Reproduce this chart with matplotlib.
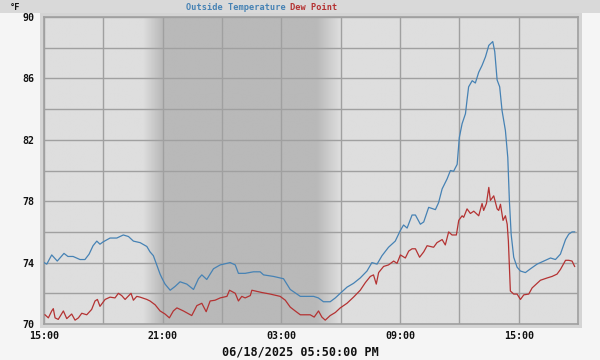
import numpy as np
import pandas as pd
import matplotlib
matplotlib.use("Agg")
import matplotlib.pyplot as plt
import matplotlib.dates as mdates
from matplotlib.patches import Rectangle

# Data: hours after 2025-06-17 15:00, values in degrees F
start = pd.Timestamp("2025-06-17 15:00")
end = pd.Timestamp("2025-06-18 18:00")
stamp = "06/18/2025 05:50:00 PM"

temp_h = [0.00, 0.14, 0.39, 0.67, 1.01, 1.21, 1.47, 1.82, 2.07, 2.28, 2.48, 2.67,
          2.83, 2.99, 3.34, 3.68, 4.01, 4.27, 4.52, 4.86, 5.20, 5.36, 5.53, 5.70,
          5.87, 5.96, 6.12, 6.38, 6.63, 6.88, 7.22, 7.56, 7.81, 7.98, 8.23, 8.57,
          8.91, 9.41, 9.67, 9.83, 10.17, 10.59, 10.93, 11.10, 11.60, 12.11, 12.45,
          12.96, 13.63, 13.87, 14.13, 14.47, 14.73, 14.98, 15.32, 15.65, 15.99,
          16.33, 16.58, 16.84, 17.09, 17.42, 17.76, 18.02, 18.18, 18.36, 18.61,
          18.78, 19.03, 19.20, 19.45, 19.79, 19.95, 20.13, 20.38, 20.55, 20.71,
          20.89, 21.00, 21.14, 21.31, 21.39, 21.47, 21.65, 21.81, 21.98, 22.15,
          22.32, 22.49, 22.69, 22.79, 22.91, 23.04, 23.16, 23.33, 23.45, 23.53,
          23.62, 23.75, 23.92, 24.09, 24.34, 24.60, 24.93, 25.27, 25.61, 25.86,
          26.11, 26.37, 26.53, 26.70, 26.83]
temp = [74.0, 73.9, 74.5, 74.1, 74.6, 74.4, 74.4, 74.2, 74.2, 74.55, 75.1, 75.4,
        75.2, 75.35, 75.6, 75.6, 75.8, 75.7, 75.4, 75.3, 75.05, 74.7, 74.45, 73.85,
        73.25, 73.0, 72.6, 72.2, 72.45, 72.75, 72.6, 72.25, 72.95, 73.2, 72.9, 73.6,
        73.85, 74.0, 73.85, 73.3, 73.3, 73.4, 73.4, 73.2, 73.1, 72.95, 72.25,
        71.8, 71.8, 71.7, 71.45, 71.45, 71.7, 72.0, 72.4, 72.65, 73.0,
        73.45, 74.0, 73.9, 74.45, 75.0, 75.4, 76.1, 76.45, 76.25, 77.1,
        77.1, 76.5, 76.65, 77.6, 77.45, 77.9, 78.8, 79.45, 80.0, 79.95,
        80.4, 82.15, 83.05, 83.7, 84.6, 85.45, 85.85, 85.7, 86.4, 86.85,
        87.4, 88.15, 88.4, 87.75, 85.9, 85.45, 83.9, 82.6, 80.85, 78.05,
        75.85, 74.35, 73.7, 73.45, 73.35, 73.6, 73.9, 74.1, 74.3, 74.2,
        74.55, 75.5, 75.85, 76.0, 76.0]

dew_h = [0.05, 0.22, 0.39, 0.47, 0.56, 0.72, 0.98, 1.15, 1.40, 1.57, 1.74, 1.91,
         2.16, 2.41, 2.58, 2.70, 2.83, 3.09, 3.34, 3.59, 3.76, 3.93, 4.10, 4.40,
         4.52, 4.69, 4.86, 5.20, 5.36, 5.62, 5.87, 6.12, 6.34, 6.54, 6.72, 7.05,
         7.47, 7.73, 7.98, 8.20, 8.40, 8.65, 8.91, 9.25, 9.38, 9.67, 9.83, 10.00,
         10.17, 10.43, 10.51, 11.02, 11.44, 11.94, 12.20, 12.45, 12.70, 12.96,
         13.46, 13.66, 13.88, 14.05, 14.22, 14.47, 14.73, 14.98, 15.32, 15.65,
         15.99, 16.25, 16.50, 16.66, 16.80, 16.92, 17.17, 17.42, 17.68, 17.85,
         18.02, 18.27, 18.44, 18.61, 18.78, 18.99, 19.20, 19.37, 19.70, 19.87,
         20.13, 20.29, 20.46, 20.63, 20.85, 20.97, 21.14, 21.22, 21.39, 21.56,
         21.73, 21.98, 22.15, 22.23, 22.37, 22.49, 22.57, 22.74, 22.91, 22.99,
         23.08, 23.21, 23.33, 23.42, 23.48, 23.58, 23.75, 23.92, 24.09, 24.26,
         24.51, 24.68, 24.85, 25.10, 25.44, 25.69, 25.94, 26.11, 26.37, 26.53,
         26.70, 26.83]
dew = [70.6, 70.4, 70.85, 71.0, 70.4, 70.3, 70.85, 70.35, 70.65, 70.25, 70.4, 70.7,
       70.6, 70.95, 71.5, 71.6, 71.15, 71.6, 71.75, 71.7, 72.0, 71.85, 71.6, 72.0,
       71.55, 71.8, 71.75, 71.6, 71.5, 71.25, 70.85, 70.65, 70.4, 70.85, 71.05, 70.85,
       70.55, 71.2, 71.35, 70.8, 71.5, 71.55, 71.7, 71.8, 72.2, 72.0, 71.5, 71.8,
       71.7, 71.85, 72.2, 72.05, 71.95, 71.8, 71.55, 71.1, 70.85, 70.6,
       70.6, 70.45, 70.85, 70.45, 70.25, 70.55, 70.75, 71.05, 71.35, 71.75,
       72.2, 72.7, 73.1, 73.2, 72.6, 73.35, 73.75, 73.85, 74.1, 73.95,
       74.5, 74.3, 74.75, 74.9, 74.9, 74.35, 74.7, 75.1, 75.0, 75.3,
       75.5, 75.15, 76.0, 75.8, 75.8, 76.75, 77.05, 76.95, 77.5, 77.2,
       77.35, 77.05, 77.85, 77.4, 77.85, 78.9, 78.05, 78.35, 77.5, 77.4,
       77.8, 76.75, 77.05, 76.5, 75.4, 72.15, 71.95, 71.95, 71.6, 71.9,
       71.95, 72.35, 72.55, 72.85, 73.0, 73.1, 73.25, 73.55, 74.15, 74.15,
       74.1, 73.75]

# night shading (hours after start): dusk ramp and dawn ramp
night_knots = [0.0, 5.0, 5.97, 13.8, 15.0, 27.0]
night_level = [0.0, 0.0, 1.0, 1.0, 0.0, 0.0]

temp_color = "#4682b4"
dew_color = "#b43232"

t_temp = start + pd.to_timedelta(temp_h, unit="h")
t_dew = start + pd.to_timedelta(dew_h, unit="h")

fig = plt.figure(figsize=(6, 3.6), dpi=100, facecolor="#f5f5f5")

# title band and frame around plot (drawn under the axes)
fig.patches.append(Rectangle((0, 1 - 13 / 360), 1, 13 / 360, transform=fig.transFigure,
                             facecolor="#d9d9d9", edgecolor="none", zorder=-10))
fig.patches.append(Rectangle((40 / 600, 1 - 328 / 360), 542 / 600, 315 / 360,
                             transform=fig.transFigure, facecolor="#d4d4d4",
                             edgecolor="none", zorder=-10))

ax = fig.add_axes([44 / 600, 1 - 324 / 360, 534 / 600, 307 / 360])
ax.set_facecolor("#dedede")

x0, x1 = mdates.date2num(start), mdates.date2num(end)
hh = np.linspace(0, 27, 1200)
shade = np.interp(hh, night_knots, night_level)
light, dark = 0xde / 255, 0xb9 / 255
img = light + (dark - light) * shade
ax.imshow(np.tile(img, (2, 1)), extent=[x0, x1, 70, 90], aspect="auto",
          cmap="gray", vmin=0, vmax=1, interpolation="bilinear", zorder=0)

ax.plot(t_temp, temp, color=temp_color, lw=0.9, zorder=3)
ax.plot(t_dew, dew, color=dew_color, lw=0.9, zorder=3)

ax.set_xlim(start, end)
ax.set_ylim(70, 90)
ax.xaxis.set_major_locator(mdates.HourLocator(byhour=[3, 9, 15, 21]))
ax.xaxis.set_minor_locator(mdates.HourLocator(byhour=[0, 6, 12, 18]))
ax.xaxis.set_major_formatter(mdates.DateFormatter("%H:%M"))
ax.set_yticks(np.arange(70, 91, 4))
ax.set_yticks(np.arange(72, 90, 4), minor=True)
ax.grid(True, which="both", color="#a0a0a0", lw=1.0, zorder=1)
ax.set_axisbelow(False)
for line in ax.get_xgridlines() + ax.get_ygridlines():
    line.set_zorder(2)
ax.tick_params(which="both", length=0)
ax.tick_params(axis="x", pad=5)
ax.tick_params(axis="y", pad=7)
for lab in ax.get_xticklabels() + ax.get_yticklabels():
    lab.set_family("DejaVu Sans Mono")
    lab.set_fontweight("bold")
    lab.set_fontsize(7.2)
    lab.set_color("#111111")
for s in ax.spines.values():
    s.set_color("#a0a0a0")
    s.set_linewidth(1.2)

mono = dict(family="DejaVu Sans Mono", fontweight="bold", fontsize=6.2)
fig.text(10 / 600, 1 - 7 / 360, "°F", va="center", ha="left", color="#111111", **mono)
fig.text(186 / 600, 1 - 7 / 360, "Outside Temperature", va="center", ha="left",
         color=temp_color, **mono)
fig.text(290 / 600, 1 - 7 / 360, "Dew Point", va="center", ha="left",
         color=dew_color, **mono)
fig.text(300 / 600, 1 - 352 / 360, stamp, va="center", ha="center", color="#111111",
         family="DejaVu Sans Mono", fontweight="bold", fontsize=8.5)

fig.savefig("out.png", dpi=100, facecolor=fig.get_facecolor())
